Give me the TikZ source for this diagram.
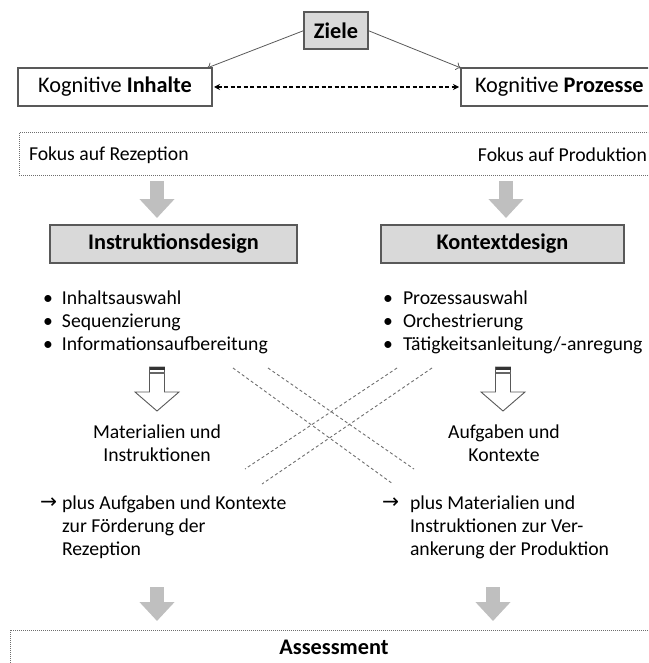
\documentclass[tikz,border=0pt]{standalone}
\usepackage{graphicx}
\usepackage{fontspec}
\setmainfont{Carlito}
\newfontfamily\pfeilfont{DejaVu Sans}
\usetikzlibrary{positioning}
\usetikzlibrary{arrows.meta}

\definecolor{boxgrau}{HTML}{D9D9D9}
\definecolor{randgrau}{HTML}{595959}
\definecolor{pfeilgrau}{HTML}{BFBFBF}
\definecolor{strichgrau}{HTML}{6E6E6E}
\newcommand{\gross}{\fontsize{22.3}{26}\selectfont}
\newcommand{\klein}{\fontsize{19.7}{23}\selectfont}
\newcommand{\pf}{\raisebox{0.5pt}{\resizebox{17pt}{!}{\pfeilfont →}}}

\tikzset{
	kasten/.style={draw=randgrau,line width=1.2pt,minimum height=38,inner sep=0pt,outer sep=0pt,font=\gross},
	graukasten/.style={kasten,fill=boxgrau},
	punktkasten/.style={draw=strichgrau,densely dotted,line width=1pt,inner sep=0pt,outer sep=0pt},
	textchen/.style={font=\klein,inner sep=0pt,outer sep=0pt},
	blockpfeil/.style={line width=14pt,draw=pfeilgrau,-{Triangle[width=34pt,length=19pt]}},
	kreuzlinie/.style={strichgrau,line width=0.9pt,dash pattern=on 3pt off 2.5pt},
	hohlpfeil/.pic={
		\draw[randgrau,line width=0.9pt,fill=white] (-7.5,0) -- (7.5,0) -- (7.5,25) -- (22,25) -- (0,44) -- (-22,25) -- (-7.5,25) -- cycle;
		\fill[black!80] (-7.5,0) rectangle (7.5,3);
		\fill[black!60] (-7.5,4.5) rectangle (7.5,6.5);
	}
}

\begin{document}
\begin{tikzpicture}[x=1pt,y=-1pt]
	\useasboundingbox (0,0) rectangle (648,663);
	\clip (0,0) rectangle (648,663);

	\node [graukasten,minimum width=64,minimum height=37,font=\gross\bfseries] (ziele) at (336,30.5) {Ziele};
	\node [kasten,minimum width=194] (inhalte) at (115,87) {Kognitive \textbf{Inhalte}};
	\node [kasten,anchor=west,inner xsep=14pt] (prozesse) at (461,87) {\makebox[200pt][l]{Kognitive \textbf{Prozesse}}};

	\draw[randgrau,line width=0.8pt,-{To[length=5pt,width=8pt]}] (ziele.west) -- ([xshift=-5pt]inhalte.north east);
	\draw[randgrau,line width=0.8pt,-{To[length=5pt,width=8pt]}] (ziele.east) -- (prozesse.north west);
	\draw[line width=1.3pt,dash pattern=on 4pt off 2.5pt,shorten <=2pt,shorten >=2pt,{Stealth[length=6pt,width=6pt]}-{Stealth[length=6pt,width=6pt]}] (inhalte.east) -- (prozesse.west);

	\node [punktkasten,anchor=north west,minimum width=660,minimum height=42] (fokus) at (19,133) {};
	\node [textchen,anchor=west] (rezeption) at (29,155) {Fokus auf Rezeption};
	\node [textchen,anchor=east] (produktion) at (647,155) {Fokus auf Produktion};

	\node [graukasten,minimum width=247,font=\gross\bfseries] (instr) at (173.5,244) {Instruktionsdesign};
	\node [graukasten,minimum width=243,font=\gross\bfseries] (kontext) at (502.5,244) {Kontextdesign};

	\node [textchen,anchor=west,align=left] (liste_l) at (43,322) {\makebox[19pt][l]{•}Inhaltsauswahl\\\makebox[19pt][l]{•}Sequenzierung\\\makebox[19pt][l]{•}Informationsaufbereitung};
	\node [textchen,anchor=west,align=left] (liste_r) at (383,322) {\makebox[20pt][l]{•}Prozessauswahl\\\makebox[20pt][l]{•}Orchestrierung\\\makebox[20pt][l]{•}Tätigkeitsanleitung/-anregung};

	\node [textchen,align=center] (mat) at (157,443) {Materialien und\\Instruktionen};
	\node [textchen,align=center] (aufg) at (504,443) {Aufgaben und\\Kontexte};

	\node [textchen,anchor=west,align=left] (plus_l) at (40,527) {\makebox[22pt][l]{\pf}plus Aufgaben und Kontexte\\\hspace*{22pt}zur Förderung der\\\hspace*{22pt}Rezeption};
	\node [textchen,anchor=west,align=left] (plus_r) at (382,527) {\makebox[28pt][l]{\pf}plus Materialien und\\\hspace*{28pt}Instruktionen zur Ver-\\\hspace*{28pt}ankerung der Produktion};

	\node [punktkasten,anchor=north west,minimum width=660,minimum height=60] (assess) at (10,630) {};
	\node [font=\gross\bfseries,inner sep=0pt] (assess_txt) at (334,647) {Assessment};

	\draw[blockpfeil] ([yshift=-6pt]fokus.south -| mat.north) -- ([yshift=7pt]instr.north -| mat.north);
	\draw[blockpfeil] ([yshift=-6pt,xshift=2pt]fokus.south -| aufg.north) -- ([yshift=7pt,xshift=2pt]kontext.north -| aufg.north);
	\draw[blockpfeil] ([yshift=43pt]assess.north -| mat.north) -- ([yshift=9pt]assess.north -| mat.north);
	\draw[blockpfeil] ([yshift=43pt,xshift=-11pt]assess.north -| aufg.north) -- ([yshift=9pt,xshift=-11pt]assess.north -| aufg.north);

	\pic at (157,367) {hohlpfeil};
	\pic at (503,367) {hohlpfeil};

	\coordinate (kreuz_a1) at (233,368);
	\coordinate (kreuz_a2) at (393,484);
	\coordinate (kreuz_b1) at (268,368);
	\coordinate (kreuz_b2) at (414,469);
	\coordinate (kreuz_c1) at (397,368);
	\coordinate (kreuz_c2) at (245,469);
	\coordinate (kreuz_d1) at (432,368);
	\coordinate (kreuz_d2) at (262,484);
	\draw[kreuzlinie] (kreuz_a1) -- (kreuz_a2);
	\draw[kreuzlinie] (kreuz_b1) -- (kreuz_b2);
	\draw[kreuzlinie] (kreuz_c1) -- (kreuz_c2);
	\draw[kreuzlinie] (kreuz_d1) -- (kreuz_d2);
\end{tikzpicture}
\end{document}
